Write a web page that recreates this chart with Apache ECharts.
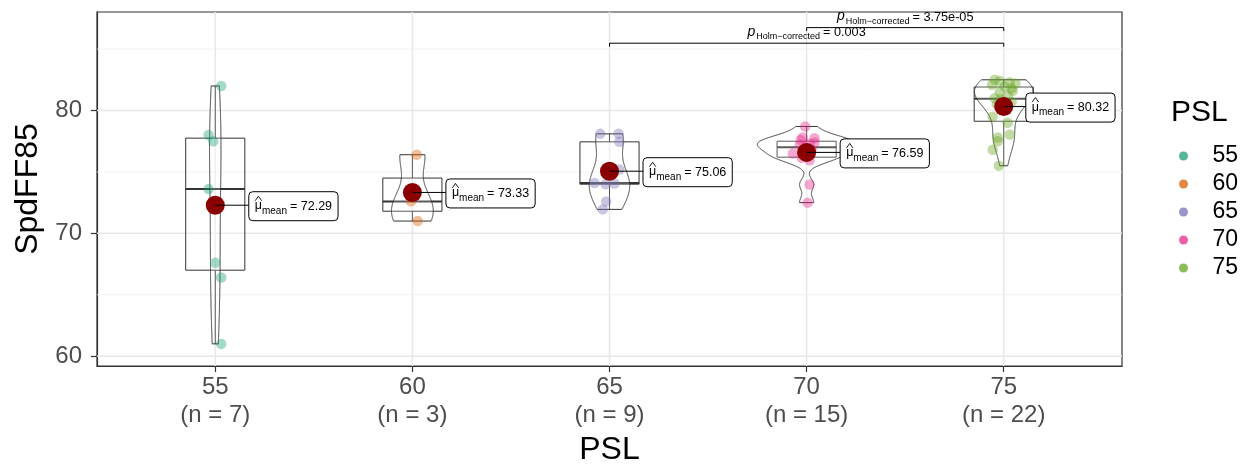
<!DOCTYPE html>
<html><head><meta charset="utf-8">
<script src="https://cdn.jsdelivr.net/npm/echarts@6/dist/echarts.min.js"></script>
<style>html,body{margin:0;padding:0;background:#fff}#chart{width:1251px;height:465px}</style>
</head><body><div id="chart"></div>
<script>
// ---------------- data ----------------
const categories = ['55', '60', '65', '70', '75'];
const groupColors = ['#1B9E77', '#D95F02', '#7570B3', '#E7298A', '#66A61E'];

const values55 = [82.0, 78.0, 77.5, 73.6, 67.6, 66.4, 61.0];
const jitter55 = [0.03, -0.034, -0.01, -0.034, 0.0, 0.03, 0.03];
const values60 = [76.4, 72.6, 71.0];
const jitter60 = [0.022, -0.007, 0.027];
const values65 = [78.1, 78.1, 77.45, 75.2, 74.1, 74.05, 74.0, 72.6, 71.95];
const jitter65 = [-0.047, 0.046, 0.05, 0.05, -0.076, 0.025, -0.02, -0.017, -0.034];
const values70 = [78.7, 77.8, 77.75, 77.6, 77.4, 77.3, 77.2, 77.0, 76.8, 76.5, 76.25, 76.15, 75.95, 73.98, 72.5];
const jitter70 = [-0.007, -0.02, 0.04, -0.03, 0.04, 0.015, -0.035, -0.005, 0.025, -0.07, 0.005, -0.025, 0.015, 0.015, 0.005];
const values75 = [82.5, 82.4, 82.3, 82.2, 82.1, 81.95, 81.8, 81.6, 81.5, 81.2, 81.0, 80.9, 80.7, 80.5, 80.2, 79.5, 79.0, 78.05, 77.8, 77.5, 76.8, 75.5];
const jitter75 = [-0.046, -0.02, 0.03, 0.06, -0.06, 0.005, 0.04, 0.046, -0.02, 0.02, -0.046, -0.015, 0.04, -0.035, 0.01, -0.056, 0.02, 0.03, -0.03, -0.03, -0.056, -0.025];

const meanValues = [72.29, 73.33, 75.06, 76.59, 80.32];
const meanLabels = ['72.29', '73.33', '75.06', '76.59', '80.32'];

const yMajorTicks = [60, 70, 80];
const yMinorTicks = [65, 75, 85];
const xTicks = [1, 2, 3, 4, 5];

const compFrom = [3, 4];
const compTo = [5, 5];
const compLabels = ['0.003', '3.75e-05'];
const compLevels = [85.48, 86.75];

const Y_MIN = 59.2, Y_MAX = 88.02;
// --------------------------------------

const groupValues = [values55, values60, values65, values70, values75];
const groupJitter = [jitter55, jitter60, jitter65, jitter70, jitter75];
const FONT = '"Liberation Sans", Arial, sans-serif';

function q7(sorted, p) {
  const h = (sorted.length - 1) * p, lo = Math.floor(h), hi = Math.ceil(h);
  return sorted[lo] + (h - lo) * (sorted[hi] - sorted[lo]);
}
function sd(a) {
  const m = a.reduce((s, v) => s + v, 0) / a.length;
  return Math.sqrt(a.reduce((s, v) => s + (v - m) * (v - m), 0) / (a.length - 1));
}
const boxStats = groupValues.map(vals => {
  const s = vals.slice().sort((a, b) => a - b);
  const q1 = q7(s, 0.25), med = q7(s, 0.5), q3 = q7(s, 0.75), iqr = q3 - q1;
  const lo = s.filter(v => v >= q1 - 1.5 * iqr)[0];
  const hiArr = s.filter(v => v <= q3 + 1.5 * iqr);
  return { q1, med, q3, lo, hi: hiArr[hiArr.length - 1], sorted: s };
});
// kernel density (gaussian, bw.nrd0), trimmed to data range
const dens = boxStats.map(st => {
  const s = st.sorted, n = s.length;
  let spread = Math.min(sd(s), (st.q3 - st.q1) / 1.34);
  if (!(spread > 0)) spread = sd(s) || 1;
  const bw = 0.9 * spread * Math.pow(n, -0.2);
  const ys = [], ds = [];
  const N = 512;
  for (let k = 0; k < N; k++) {
    const y = s[0] + (s[n - 1] - s[0]) * k / (N - 1);
    let d = 0;
    for (const v of s) { const z = (y - v) / bw; d += Math.exp(-0.5 * z * z); }
    d = d / (n * bw * Math.sqrt(2 * Math.PI));
    ys.push(y); ds.push(d);
  }
  return { ys, ds };
});
const dMax = Math.max(...dens.map(g => Math.max(...g.ds)));

const mctx = document.createElement('canvas').getContext('2d');
function tw(text, size, style) {
  mctx.font = (style || '') + ' ' + size + 'px ' + FONT;
  return mctx.measureText(text).width;
}

const chart = echarts.init(document.getElementById('chart'), null, { renderer: 'canvas' });

const scatterSeries = groupValues.map((vals, i) => ({
  name: categories[i],
  type: 'scatter',
  z: 4,
  symbolSize: 10.5,
  itemStyle: { color: groupColors[i], opacity: 0.4 },
  data: vals.map((v, k) => [i + 1 + groupJitter[i][k], v]),
  silent: true
}));

const option = {
  animation: false,
  backgroundColor: '#fff',
  textStyle: { fontFamily: FONT },
  title: {
    text: 'PSL', left: 1166, top: 93,
    textStyle: { fontSize: 30, fontWeight: 'normal', color: '#000', fontFamily: FONT }
  },
  legend: {
    data: categories,
    orient: 'vertical',
    left: 1174, top: 139,
    itemWidth: 40, itemHeight: 9, itemGap: 4,
    icon: 'circle',
    selectedMode: false,
    itemStyle: { opacity: 0.75 },
    textStyle: { fontSize: 23, color: '#000', fontFamily: FONT, lineHeight: 24, padding: [0, 0, 0, 4] }
  },
  grid: { left: 97, right: 129, top: 12, bottom: 99, outerBoundsMode: 'none', containLabel: false, show: true, borderColor: '#333', borderWidth: 1.2, backgroundColor: 'transparent' },
  xAxis: {
    type: 'value', min: 0.4, max: 5.6,
    axisLine: { show: true, lineStyle: { color: '#333', width: 1.2 } },
    splitLine: { show: false },
    axisTick: { show: true, customValues: xTicks, length: 6, lineStyle: { color: '#333', width: 1.2 } },
    axisLabel: {
      customValues: xTicks, fontSize: 24, color: '#4D4D4D', lineHeight: 28, margin: 7, fontFamily: FONT,
      formatter: v => { const i = Math.round(v) - 1; return categories[i] + '\n(n = ' + groupValues[i].length + ')'; }
    },
    name: 'PSL', nameLocation: 'middle', nameGap: 65,
    nameTextStyle: { fontSize: 32, color: '#000', fontFamily: FONT }
  },
  yAxis: {
    type: 'value', min: Y_MIN, max: Y_MAX,
    axisLine: { show: true, lineStyle: { color: '#333', width: 1.2 } },
    splitLine: { show: false },
    axisTick: { show: true, customValues: yMajorTicks, length: 6, lineStyle: { color: '#333', width: 1.2 } },
    axisLabel: { customValues: yMajorTicks, fontSize: 24, color: '#4D4D4D', margin: 15, fontFamily: FONT },
    name: 'SpdFF85', nameLocation: 'middle', nameGap: 46,
    nameTextStyle: { fontSize: 32, color: '#000', fontFamily: FONT }
  },
  series: [
    { // grid lines
      type: 'custom', z: 1, silent: true, data: [[0]],
      renderItem: (params, api) => {
        const cs = params.coordSys, ch = [];
        yMinorTicks.forEach(v => { const p = api.coord([1, v]);
          ch.push({ type: 'line', shape: { x1: cs.x, y1: p[1], x2: cs.x + cs.width, y2: p[1] }, style: { stroke: '#EEEEEE', lineWidth: 0.8 } }); });
        yMajorTicks.forEach(v => { const p = api.coord([1, v]);
          ch.push({ type: 'line', shape: { x1: cs.x, y1: p[1], x2: cs.x + cs.width, y2: p[1] }, style: { stroke: '#E8E8E8', lineWidth: 1.5 } }); });
        xTicks.forEach(v => { const p = api.coord([v, Y_MIN]);
          ch.push({ type: 'line', shape: { x1: p[0], y1: cs.y, x2: p[0], y2: cs.y + cs.height }, style: { stroke: '#E8E8E8', lineWidth: 1.5 } }); });
        return { type: 'group', children: ch };
      }
    },
    { // boxplots
      type: 'custom', z: 2, silent: true, data: categories.map((c, i) => [i]),
      renderItem: (params, api) => {
        const i = params.dataIndex, st = boxStats[i], x = i + 1;
        const tl = api.coord([x - 0.15, st.q3]), br = api.coord([x + 0.15, st.q1]);
        const m1 = api.coord([x - 0.15, st.med]), m2 = api.coord([x + 0.15, st.med]);
        const wt = api.coord([x, st.q3]), wh = api.coord([x, st.hi]);
        const wb = api.coord([x, st.q1]), wl = api.coord([x, st.lo]);
        const ls = { stroke: '#333', lineWidth: 1, fill: null };
        return { type: 'group', children: [
          { type: 'line', shape: { x1: wt[0], y1: wt[1], x2: wh[0], y2: wh[1] }, style: ls },
          { type: 'line', shape: { x1: wb[0], y1: wb[1], x2: wl[0], y2: wl[1] }, style: ls },
          { type: 'rect', shape: { x: tl[0], y: tl[1], width: br[0] - tl[0], height: br[1] - tl[1] }, style: { stroke: '#333', lineWidth: 1, fill: 'rgba(255,255,255,0.2)' } },
          { type: 'line', shape: { x1: m1[0], y1: m1[1], x2: m2[0], y2: m2[1] }, style: { stroke: '#333', lineWidth: 2 } }
        ] };
      }
    },
    { // violins
      type: 'custom', z: 3, silent: true, data: categories.map((c, i) => [i]),
      renderItem: (params, api) => {
        const i = params.dataIndex, g = dens[i], x = i + 1;
        const right = g.ys.map((y, k) => api.coord([x + 0.25 * g.ds[k] / dMax, y]));
        const left = g.ys.map((y, k) => api.coord([x - 0.25 * g.ds[k] / dMax, y])).reverse();
        return { type: 'polygon', shape: { points: right.concat(left) }, style: { fill: 'rgba(255,255,255,0.2)', stroke: '#333', lineWidth: 1 } };
      }
    },
    ...scatterSeries,
    { // means
      type: 'scatter', z: 5, silent: true, symbolSize: 19,
      itemStyle: { color: '#8B0000', opacity: 1 },
      data: meanValues.map((m, i) => [i + 1, m])
    },
    { // mean labels
      type: 'custom', z: 6, silent: true, data: categories.map((c, i) => [i]),
      renderItem: (params, api) => {
        const i = params.dataIndex, x = i + 1, m = meanValues[i];
        const off = i === 4 ? 0.112 : 0.17;
        const pm = api.coord([x, m]), pl = api.coord([x + off, m]);
        const L = pl[0], C = pm[1] + 1;
        const muW = tw('μ', 12.5), subW = tw('mean', 10), eqText = '= ' + meanLabels[i], eqW = tw(eqText, 12.5);
        const W = 6 + muW + subW + 3 + eqW + 6, H = 29;
        return { type: 'group', children: [
          { type: 'line', shape: { x1: pm[0], y1: pm[1], x2: L, y2: pm[1] }, style: { stroke: '#000', lineWidth: 1 } },
          { type: 'rect', shape: { x: L, y: C - H / 2, width: W, height: H, r: 4 }, style: { fill: '#fff', stroke: '#000', lineWidth: 1 } },
          { type: 'text', style: { text: 'μ', x: L + 6, y: C - 0.5, font: '12.5px ' + FONT, fill: '#000', align: 'left', verticalAlign: 'middle' } },
          { type: 'polyline', shape: { points: [[L + 6.4, C - 5.5], [L + 6 + muW / 2, C - 10], [L + 5.6 + muW, C - 5.5]] }, style: { stroke: '#000', lineWidth: 0.9, fill: null } },
          { type: 'text', style: { text: 'mean', x: L + 6 + muW, y: C + 5, font: '10px ' + FONT, fill: '#000', align: 'left', verticalAlign: 'middle' } },
          { type: 'text', style: { text: eqText, x: L + 6 + muW + subW + 3, y: C, font: '12.5px ' + FONT, fill: '#000', align: 'left', verticalAlign: 'middle' } }
        ] };
      }
    },
    { // pairwise comparisons
      type: 'custom', z: 6, silent: true, data: compLabels.map((c, i) => [i]),
      renderItem: (params, api) => {
        const i = params.dataIndex;
        const a = api.coord([compFrom[i], compLevels[i]]), b = api.coord([compTo[i], compLevels[i]]);
        const B = a[1], tip = 3.5;
        const pW = tw('p', 14, 'italic'), sub = 'Holm\u2212corrected', subW = tw(sub, 9), eq = '= ' + compLabels[i], eqW = tw(eq, 12.7);
        const total = pW + 1 + subW + 3 + eqW;
        const x0 = (a[0] + b[0]) / 2 - total / 2;
        return { type: 'group', children: [
          { type: 'polyline', shape: { points: [[a[0], B + tip], [a[0], B], [b[0], B], [b[0], B + tip]] }, style: { stroke: '#000', lineWidth: 1, fill: null } },
          { type: 'text', style: { text: 'p', x: x0, y: B - 11, font: 'italic 14px ' + FONT, fill: '#000', align: 'left', verticalAlign: 'middle' } },
          { type: 'text', style: { text: sub, x: x0 + pW + 1, y: B - 6.5, font: '9px ' + FONT, fill: '#000', align: 'left', verticalAlign: 'middle' } },
          { type: 'text', style: { text: eq, x: x0 + pW + 1 + subW + 3, y: B - 10.4, font: '12.7px ' + FONT, fill: '#000', align: 'left', verticalAlign: 'middle' } }
        ] };
      }
    }
  ]
};
chart.setOption(option);
</script>
</body></html>
